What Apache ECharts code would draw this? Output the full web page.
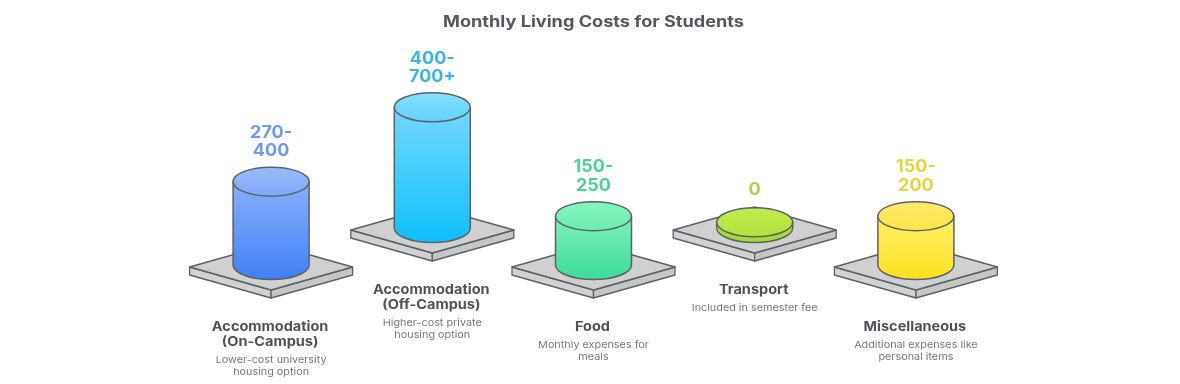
<!DOCTYPE html>
<html>
<head>
<meta charset="utf-8">
<style>
  html, body { margin: 0; padding: 0; background: #fff; }
  #chart { width: 1180px; height: 384px; }
</style>
<script src="https://cdn.jsdelivr.net/npm/echarts@6/dist/echarts.min.js"></script>
</head>
<body>
<div id="chart"></div>
<script>
// data
var chartTitle = 'Monthly Living Costs for Students';
var categories = ['Accommodation\n(On-Campus)', 'Accommodation\n(Off-Campus)', 'Food', 'Transport', 'Miscellaneous'];
var rangeLabels = ['270-\n400', '400-\n700+', '150-\n250', '0', '150-\n200'];
var lowValues = [270, 400, 150, 0, 150];
var descriptions = [
  'Lower-cost university\nhousing option',
  'Higher-cost private\nhousing option',
  'Monthly expenses for\nmeals',
  'Included in semester fee',
  'Additional expenses like\npersonal items'
];

// palette per item: [label, ellipse top, ellipse bottom, body top, body bottom]
var palette = [
  ['#6c9bf0', '#9dbcfb', '#7ea6fa', '#8ab0fb', '#3f80f6'],
  ['#3fb4e4', '#86dffe', '#63d2fe', '#74d8ff', '#0fbffb'],
  ['#4fd09a', '#84f4c0', '#6cecb0', '#80f0bc', '#3cdc98'],
  ['#a9d24e', '#c3ec50', '#b0e23c', '#b0e040', '#a4d836'],
  ['#e3d446', '#ffe96a', '#ffe44c', '#fff06c', '#ffe01e']
];

var EDGE = '#5b6167';
var FONT = 'Inter, Roboto, sans-serif';
var ROW_LIFT = 37; // every second item sits higher up
var RX = 38;
var RY = 14.5;
var PLATE_W = 81.5;
var PLATE_H = 23;
var PLATE_T = 8;

function vGrad(a, b) {
  return new echarts.graphic.LinearGradient(0, 0, 0, 1, [
    { offset: 0, color: a },
    { offset: 1, color: b }
  ]);
}

function poly(points, fill) {
  return {
    type: 'polygon',
    shape: { points: points },
    style: { fill: fill, stroke: EDGE, lineWidth: 1.3, lineJoin: 'round' }
  };
}

// the original lettering runs wider than Inter, so stretch it sideways
function txt(text, x, y, fill, font, lineHeight, stretch) {
  return {
    type: 'text',
    x: x,
    y: y,
    scaleX: stretch,
    style: {
      text: text, x: 0, y: 0, fill: fill, font: font,
      lineHeight: lineHeight, align: 'center', verticalAlign: 'top'
    }
  };
}

function renderItem(params, api) {
  var i = params.dataIndex;
  var c = palette[i];
  var lift = i % 2 ? ROW_LIFT : 0;
  var cx = api.coord([i, 0])[0];
  // axis min is the foot of the cylinder, the value gives its top
  var base = api.coord([i, -20])[1] - lift;
  var top = api.coord([i, api.value(1)])[1] - lift;

  // square plate the cylinder stands on
  var py = base + 2;
  var plate = [
    poly([[cx - PLATE_W, py], [cx, py + PLATE_H], [cx, py + PLATE_H + PLATE_T], [cx - PLATE_W, py + PLATE_T]], '#d2d2d2'),
    poly([[cx + PLATE_W, py], [cx, py + PLATE_H], [cx, py + PLATE_H + PLATE_T], [cx + PLATE_W, py + PLATE_T]], '#c6c6c6'),
    poly([[cx - PLATE_W, py], [cx, py - PLATE_H], [cx + PLATE_W, py], [cx, py + PLATE_H]], '#d0d0d0')
  ];

  var bodyPath = 'M' + (cx - RX) + ' ' + top +
    'L' + (cx - RX) + ' ' + base +
    'A' + RX + ' ' + RY + ' 0 0 0 ' + (cx + RX) + ' ' + base +
    'L' + (cx + RX) + ' ' + top + 'Z';
  var body = {
    type: 'path',
    shape: { pathData: bodyPath },
    style: { fill: vGrad(c[3], c[4]), stroke: EDGE, lineWidth: 1.5 }
  };
  var cap = {
    type: 'ellipse',
    shape: { cx: cx, cy: top, rx: RX, ry: RY },
    style: { fill: vGrad(c[1], c[2]), stroke: EDGE, lineWidth: 1.5 }
  };

  // text above and below
  var rangeLines = rangeLabels[i].split('\n').length;
  var rangeGap = rangeLines > 1 ? 6.5 : 8.5;
  var rangeY = top - RY - rangeGap - 18.5 * rangeLines;
  var nameLines = categories[i].split('\n').length;
  var nameY = base + 54.5;
  var descY = nameY + 15 * nameLines + 5;

  return {
    type: 'group',
    children: plate.concat([
      body,
      cap,
      txt(rangeLabels[i], cx, rangeY, c[0], '700 17px ' + FONT, 18.5, 1.06),
      txt(categories[i], cx - 1, nameY, '#4f5359', '700 13px ' + FONT, 15, 1.115),
      txt(descriptions[i], cx, descY, '#74787d', '400 9.5px ' + FONT, 11.5, 1.14)
    ])
  };
}

var chart = echarts.init(document.getElementById('chart'));
chart.setOption({
  animation: false,
  graphic: [{
    type: 'text',
    x: 593.5,
    y: 14.5,
    scaleX: 1.17,
    style: {
      text: chartTitle, x: 0, y: 0, fill: '#54585e',
      font: '700 15.5px ' + FONT, align: 'center', verticalAlign: 'top'
    }
  }],
  grid: { left: 190.5, width: 806, top: 35, height: 230 },
  xAxis: { type: 'category', data: categories, show: false },
  yAxis: { type: 'value', min: -20, max: 780, show: false },
  series: [{
    type: 'custom',
    clip: false,
    renderItem: renderItem,
    encode: { x: 0, y: 1 },
    data: categories.map(function (name, i) { return [i, lowValues[i]]; })
  }]
});
</script>
</body>
</html>
